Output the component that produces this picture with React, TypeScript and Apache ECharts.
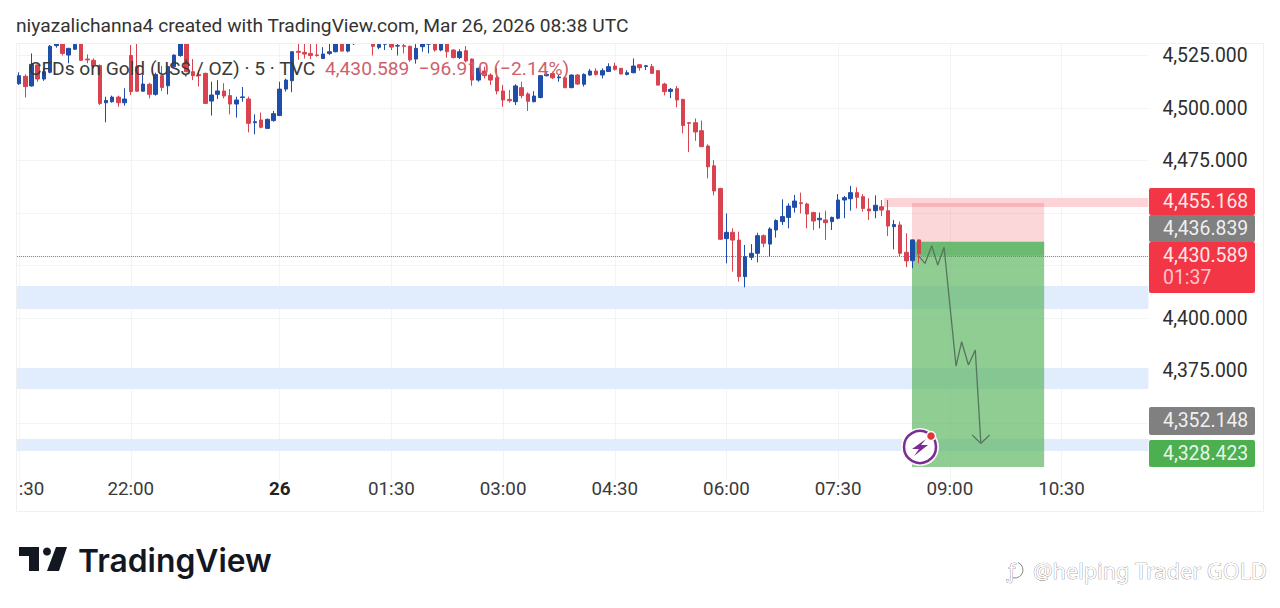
import React, { useEffect, useRef } from "react";
import * as echarts from "echarts";

// [open, close, low, high] for each 5-minute bar, starting at 20:30
const candles: number[][] = [
  [4511.6,4515.4,4511,4517],[4515.1,4510.2,4505,4516],[4510.5,4520.8,4510.2,4526],[4520.5,4513.8,4512.5,4520.8],
  [4513.8,4517.3,4512.9,4519],[4517,4529.4,4516.5,4530],[4529.7,4530.5,4528.7,4532],[4531,4526,4525,4532],
  [4525.2,4528.4,4521.3,4528.7],[4528,4530.3,4527.6,4531],[4532,4522.7,4522.4,4533],[4523.3,4522.9,4521.3,4525.5],
  [4522.7,4520.2,4518.9,4523.6],[4520.2,4502.2,4501.4,4520.8],[4502.5,4503.6,4493.2,4505.4],[4503,4505.2,4502.5,4505.9],
  [4505.2,4502.5,4500.6,4505.9],[4502.5,4504.3,4501.1,4509.4],[4525,4507.8,4506.2,4530],[4519.7,4508,4507.8,4531],
  [4508,4511.4,4507.8,4515.7],[4511.3,4506.5,4504.6,4512],[4506.5,4516,4505.9,4516.8],[4515.4,4509.8,4508.1,4520],
  [4510.6,4519.7,4506.5,4520.2],[4519.7,4525.2,4518.9,4525.5],[4525,4531,4524.4,4532],[4531,4517.3,4517,4532],
  [4517.3,4515.4,4513.3,4523.3],[4516,4515.4,4510.2,4518],[4516.5,4502.2,4502,4516.8],[4503.3,4506.2,4496.4,4512.5],
  [4506.5,4508.1,4504.3,4513.3],[4508.1,4505.7,4504.6,4511.8],[4505.9,4501.9,4497,4509],[4501.9,4503.8,4495.4,4505.4],
  [4505,4505.3,4503,4510],[4504.3,4492.7,4488.4,4505.4],[4493,4493.5,4487.5,4497],[4494.3,4490.8,4490.3,4497.8],
  [4490.3,4494.6,4490,4495],[4494,4497.3,4493.5,4498.6],[4496.4,4509,4496.2,4512.5],[4509,4513.3,4507.8,4514],
  [4513,4526.8,4507.5,4527],[4527,4526.5,4523,4531],[4526.5,4525.7,4523.6,4531],[4526,4525,4523.3,4531],
  [4525.3,4525,4524.4,4531],[4523.6,4525.7,4523.3,4529],[4526,4526.8,4525.2,4531],[4526.8,4530.5,4526.5,4531],
  [4530.5,4527.1,4527,4531],[4527.1,4530.5,4526.5,4531],[4530.6,4530.9,4530,4532],[4533,4532.5,4531.5,4534],
  [4533,4533.5,4531.5,4535],[4531,4529.4,4525,4532],[4528.9,4530.3,4528,4531.5],[4530.4,4530.6,4527.6,4532],
  [4530.8,4529,4527.6,4532],[4529.5,4529.7,4525,4531.5],[4529.7,4529.4,4526,4532],[4529.4,4522.9,4522,4529.7],
  [4523.3,4528.4,4521.1,4532],[4529.2,4530.5,4526.8,4531.5],[4530.4,4530.7,4526,4532],[4530.5,4527.6,4526.8,4531.5],
  [4527.6,4530.5,4527,4531.5],[4530.5,4526.8,4524,4531.5],[4527.6,4524,4523.6,4528],[4524,4526.8,4523.3,4528],
  [4527.3,4522.4,4521.7,4529.5],[4523.3,4513.3,4510.6,4523.6],[4513.3,4518.9,4512.5,4519.2],[4517.6,4515.4,4514.1,4519.7],
  [4515.7,4513.3,4511,4516.5],[4514.4,4508.1,4506.5,4519],[4508.1,4503.8,4500.6,4511],[4504.1,4503.5,4502.5,4508.6],
  [4503,4510.5,4501.4,4511.3],[4509.7,4505.9,4504.6,4512.5],[4506.7,4503.2,4498.6,4507.5],[4503,4505.7,4502.7,4508],
  [4505,4515.4,4504.6,4515.7],[4515.4,4516,4515,4517],[4516.4,4514.4,4513.8,4517.3],[4514.4,4514.8,4512.5,4515.7],
  [4514.4,4509.7,4509.4,4515],[4509.7,4515.7,4509.4,4516],[4515.7,4511.4,4511,4516.2],[4511.3,4516,4510.2,4516.5],
  [4515.7,4517.6,4515.4,4518.6],[4517.6,4516,4515.4,4518.9],[4515.7,4517.8,4514.1,4518.9],[4517.4,4519.7,4517.3,4521.3],
  [4520,4518.4,4517.8,4521.6],[4518.9,4516.2,4516,4519],[4516,4516.8,4515.5,4518],[4516.8,4520,4516.5,4523.6],
  [4520.6,4519.2,4517.8,4520.9],[4519.8,4520.1,4518.1,4520.5],[4519.7,4516.5,4516.5,4521],[4517.8,4510.9,4510.8,4518],
  [4511.4,4507.8,4506,4512],[4507.9,4508.9,4504.7,4509.5],[4509.2,4503.8,4500.3,4510.5],[4504.1,4491.7,4487.9,4504.4],
  [4493,4492.7,4479,4493.3],[4493,4488.6,4484.4,4495],[4489.2,4481.6,4481.4,4494],[4481.9,4472,4466.5,4482.7],
  [4472.5,4460.5,4458.4,4475.2],[4461.7,4437.5,4437.2,4462],[4437.8,4440.8,4426,4449.8],[4440.8,4437.1,4422.1,4442.7],
  [4437.1,4419.7,4417.3,4441.1],[4419.7,4429.2,4414.6,4434.8],[4428.9,4430.8,4427.6,4435.2],[4430.8,4439.2,4426.5,4440.6],
  [4439.2,4435.6,4433.7,4439.8],[4435.2,4442.4,4429.2,4443.2],[4441.9,4446.4,4438.3,4447],[4445.9,4448.3,4444.3,4456.5],
  [4447.9,4453.3,4442.7,4454.6],[4452.7,4455.7,4450.2,4458.6],[4454.9,4454.5,4449.8,4459.7],[4454.3,4449.5,4442.7,4454.9],
  [4450.2,4446.2,4441.9,4450.6],[4446.8,4447.5,4442.7,4450.2],[4446.7,4445.4,4437.2,4451.1],[4445.9,4447.9,4441.9,4448.3],
  [4447.5,4456.2,4447,4459],[4456.2,4457.3,4447.5,4458.1],[4456.8,4459.7,4451.1,4462.9],[4459.7,4457.5,4452.2,4462.2],
  [4457.8,4452.2,4450.6,4459],[4451.9,4451,4446.7,4457],[4451.1,4453.7,4447.5,4458.4],[4453,4451.4,4448.6,4456.2],
  [4451.1,4443.8,4439.1,4456.2],[4443.5,4444.5,4432.7,4446.7],[4444.3,4430.8,4429.5,4445.9],[4431.3,4427.2,4424.2,4440.3],
  [4427.3,4437.2,4423.7,4437.4],[4437.2,4430.589,4426,4437.4],
];

const yTickValues = [4350, 4375, 4400, 4425, 4450, 4475, 4500, 4525];
const yLabelValues = [4375, 4400, 4475, 4500, 4525];
const xLabels: Record<string, string> = {
  "20:40": ":30", "22:00": "22:00", "00:00": "26", "01:30": "01:30", "03:00": "03:00",
  "04:30": "04:30", "06:00": "06:00", "07:30": "07:30", "09:00": "09:00", "10:30": "10:30",
};
const xGridTimes = ["20:30", "22:00", "00:00", "01:30", "03:00", "04:30", "06:00", "07:30", "09:00", "10:30"];

const lastPrice = 4430.589;
const stopPrice = 4455.168;
const entryPrice = 4436.839;
const targetPrice = 4328.423;
const secondTag = 4352.148;
// levels as they sit on the picture's scale
const lastLevel = 4429.6;
const entryLevel = 4436.3;
const targetLevel = 4329;
const stopLevel = 4454.8;

// [fromBar, toBar, priceA, priceB]
const blueZones = [[0.5, 183, 4415.2, 4404.3], [0.5, 183, 4376.2, 4366.2], [0.5, 183, 4342.4, 4336.7]];
const pinkBand = [[140.4, 183, 4457.1, 4452.9]];
const riskBox = [[144.9, 166.2, stopLevel, entryLevel]];
const rewardBox = [[144.9, 166.2, entryLevel, targetLevel]];
const openProfitBox = [[144.9, 166.2, entryLevel, lastLevel]];

// [bar, price]
const projection = [[146.07, 4429.2], [147, 4426], [148.08, 4434.4], [149.05, 4425.2], [150.07, 4433.7], [152, 4377.1], [152.9, 4388.7], [154, 4377.6], [155.1, 4384.8], [156, 4340.3]];
const arrowHead = [[154.6, 4344.3], [156, 4340.3], [157.4, 4344.3]];

const titleText = "niyazalichanna4 created with TradingView.com, Mar 26, 2026 08:38 UTC";
const symbolText = "CFDs on Gold (US$ / OZ) · 5 · TVC";
const quoteText = "4,430.589  −96.910 (−2.14%)";
const countdownText = "01:37";
const watermarkText = "@helping Trader GOLD";

const FONT = "Roboto, sans-serif";
const fmt = (v: number) => v.toLocaleString("en-US", { minimumFractionDigits: 3, maximumFractionDigits: 3 });

const pad2 = (n: number) => String(n).padStart(2, "0");
const categories: string[] = Array.from({ length: 184 }, (_, i) => {
  if (i === 0) return "";
  const m = (20 * 60 + 30 + 5 * (i - 1)) % 1440;
  return `${pad2(Math.floor(m / 60))}:${pad2(m % 60)}`;
});

const boxSeries = (rows: number[][], color: string, z: number) => ({
  type: "custom",
  xAxisIndex: 1,
  yAxisIndex: 0,
  z,
  silent: true,
  encode: { x: [0, 1], y: [2, 3] },
  data: rows,
  renderItem: (_: any, api: any) => {
    const a = api.coord([api.value(0), api.value(2)]);
    const b = api.coord([api.value(1), api.value(3)]);
    return {
      type: "rect",
      shape: { x: a[0], y: a[1], width: b[0] - a[0], height: b[1] - a[1] },
      style: { fill: color },
    };
  },
});

const tag = (top: number, h: number, color: string, text: string) => [
  { type: "rect", z: 120, shape: { x: 1149, y: top, width: 106, height: h, r: 2 }, style: { fill: color } },
  { type: "text", z: 121, x: 1163, y: top + 13.5, style: { text, fill: "#fff", font: `19.4px ${FONT}`, verticalAlign: "middle", opacity: 0.9 } },
];

export default function App() {
  const ref = useRef<HTMLDivElement>(null);
  useEffect(() => {
    document.body.style.margin = "0";
    document.body.style.background = "#fff";
    const chart = echarts.init(ref.current!, undefined, { renderer: "svg" });
    chart.setOption({
      animation: false,
      backgroundColor: "#fff",
      grid: { left: 12.9, top: 44, width: 1135.5, height: 436, containLabel: false },
      xAxis: [
        {
          type: "category",
          data: categories,
          boundaryGap: false,
          axisLine: { show: false },
          axisTick: { show: false },
          axisLabel: {
            interval: (_: number, v: string) => v in xLabels,
            formatter: (v: string) => (v === "00:00" ? `{b|${xLabels[v]}}` : xLabels[v] ?? ""),
            color: "#3a3a3a",
            fontFamily: FONT,
            fontSize: 18.8,
            margin: 0,
            lineHeight: 18,
            rich: { b: { fontWeight: "bold", fontFamily: FONT, fontSize: 18.8, color: "#222" } },
            padding: [0, 0, 0, 0],
            verticalAlign: "top",
          },
          splitLine: {
            show: true,
            interval: (_: number, v: string) => xGridTimes.includes(v),
            lineStyle: { color: "#f3f4f6", width: 1 },
          },
        },
        { type: "value", min: 0, max: 183, show: false, splitLine: { show: false } },
      ],
      yAxis: {
        type: "value",
        position: "right",
        min: 4322.86,
        max: 4530.48,
        scale: true,
        axisLine: { show: false },
        axisTick: { show: false, customValues: yTickValues },
        splitLine: { show: true, lineStyle: { color: "#f3f4f6", width: 1 } },
        axisLabel: {
          customValues: yLabelValues,
          formatter: (v: number) => fmt(v),
          color: "#2e2e2e",
          fontFamily: FONT,
          fontSize: 19.4,
          margin: 14,
        },
      },
      series: [
        boxSeries(blueZones, "#e1ecfc", 1),
        boxSeries(pinkBand, "#fcd4d7", 2),
        boxSeries(riskBox, "rgba(242,54,69,0.2)", 3),
        boxSeries(rewardBox, "rgba(76,175,80,0.62)", 3),
        boxSeries(openProfitBox, "rgba(60,160,70,0.42)", 4),
        {
          type: "candlestick",
          xAxisIndex: 0,
          yAxisIndex: 0,
          z: 5,
          barWidth: 4,
          silent: true,
          data: [["-", "-", "-", "-"], ...candles],
          itemStyle: { color: "#1f4eaa", color0: "#d8434f", borderColor: "#1f4eaa", borderColor0: "#d8434f", borderWidth: 1 },
          markLine: {
            silent: true,
            symbol: "none",
            label: { show: false },
            lineStyle: { type: "dotted", color: "#7d7d7d", width: 1 },
            data: [{ yAxis: lastLevel }],
          },
        },
        {
          type: "line",
          xAxisIndex: 1,
          yAxisIndex: 0,
          z: 6,
          silent: true,
          showSymbol: false,
          data: projection,
          lineStyle: { color: "#56755c", width: 1.3 },
        },
        {
          type: "line",
          xAxisIndex: 1,
          yAxisIndex: 0,
          z: 6,
          silent: true,
          showSymbol: false,
          data: arrowHead,
          lineStyle: { color: "#56755c", width: 1.3 },
        },
      ],
      graphic: [
        { type: "rect", z: 90, shape: { x: 0, y: 40, width: 16, height: 445 }, style: { fill: "#fff" } },
        { type: "rect", z: 90, shape: { x: 0, y: 33, width: 1150, height: 10.5 }, style: { fill: "#fff" } },
        { type: "rect", z: 91, shape: { x: 16.5, y: 43.5, width: 1247, height: 468 }, style: { fill: "none", stroke: "#f0f0f0", lineWidth: 1 } },
        { type: "text", z: 100, x: 16, y: 25, style: { text: titleText, fill: "#333", font: `19.2px ${FONT}`, verticalAlign: "middle" } },
        { type: "text", z: 100, x: 29, y: 68, style: { text: symbolText, fill: "#3a3a3a", font: `19.2px ${FONT}`, verticalAlign: "middle" } },
        { type: "text", z: 100, x: 325, y: 68, style: { text: quoteText, fill: "#cf5f6b", font: `19.2px ${FONT}`, verticalAlign: "middle" } },
        ...tag(188, 27, "#f23645", fmt(stopPrice)),
        ...tag(215, 27, "#808080", fmt(entryPrice)),
        ...tag(242, 51, "#f23645", fmt(lastPrice)),
        { type: "text", z: 121, x: 1163, y: 277, style: { text: countdownText, fill: "#fbc4c9", font: `19.4px ${FONT}`, verticalAlign: "middle" } },
        ...tag(407, 28, "#808080", fmt(secondTag)),
        ...tag(440, 27, "#4caf50", fmt(targetPrice)),
        // signal badge
        { type: "circle", z: 110, shape: { cx: 920, cy: 447, r: 19 }, style: { fill: "#fff", opacity: 0.9 } },
        { type: "circle", z: 111, shape: { cx: 920, cy: 447, r: 16 }, style: { fill: "#fff", stroke: "#7b2c95", lineWidth: 2.5 } },
        { type: "polygon", z: 112, shape: { points: [[926, 439], [912, 449], [919, 449], [914, 456], [928, 445], [921, 445]] }, style: { fill: "#7b2c95" } },
        { type: "circle", z: 113, shape: { cx: 931, cy: 436, r: 4.5 }, style: { fill: "#e2363f", stroke: "#fff", lineWidth: 1.5 } },
        // TradingView logo
        { type: "polygon", z: 100, shape: { points: [[19, 547], [39, 547], [39, 571], [29, 571], [29, 556], [19, 556]] }, style: { fill: "#131722" } },
        { type: "circle", z: 101, shape: { cx: 47, cy: 551.5, r: 4 }, style: { fill: "#131722" } },
        { type: "polygon", z: 100, shape: { points: [[56, 547], [67, 547], [59, 571], [47, 571]] }, style: { fill: "#131722" } },
        { type: "text", z: 100, x: 78, y: 560, style: { text: "TradingView", fill: "#131722", font: `600 31.8px Inter, ${FONT}`, verticalAlign: "middle" } },
        // watermark
        { type: "arc", z: 100, shape: { cx: 1015, cy: 570, r: 8, startAngle: -1.2, endAngle: 2.2 }, style: { fill: "none", stroke: "#888", lineWidth: 1 } },
        { type: "text", z: 100, x: 1007, y: 570, style: { text: "ƒ", fill: "#fff", stroke: "#777", lineWidth: 0.7, font: `20px "Noto Sans"`, verticalAlign: "middle" } },
        { type: "text", z: 100, x: 1033, y: 570, style: { text: watermarkText, fill: "#fff", stroke: "#808080", lineWidth: 0.7, font: `21.7px "Noto Sans"`, verticalAlign: "middle" } },
      ],
    });
    return () => chart.dispose();
  }, []);
  return <div ref={ref} style={{ position: "absolute", left: 0, top: 0, width: 1280, height: 608 }} />;
}
